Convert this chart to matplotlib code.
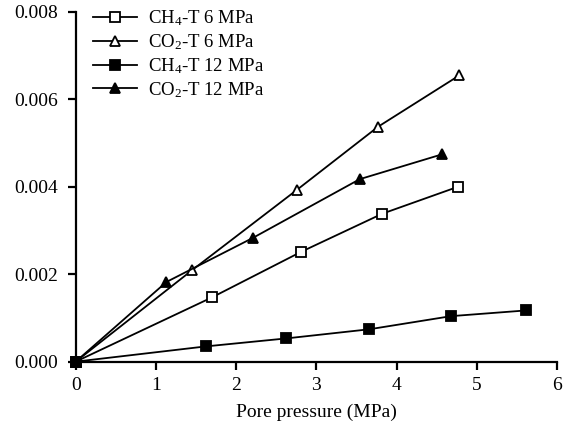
import matplotlib
matplotlib.use('Agg')
import matplotlib.pyplot as plt

plt.rcParams['font.family'] = ['Liberation Serif']
plt.rcParams['mathtext.fontset'] = 'custom'
plt.rcParams['mathtext.rm'] = 'Liberation Serif'
plt.rcParams['mathtext.it'] = 'Liberation Serif:italic'

labels = ['CH$_4$-T 6 MPa', 'CO$_2$-T 6 MPa', 'CH$_4$-T 12 MPa', 'CO$_2$-T 12 MPa']

ch4_6_x = [0, 1.70, 2.81, 3.82, 4.77]
ch4_6_y = [0, 0.00147, 0.00251, 0.00338, 0.00400]

co2_6_x = [0, 1.45, 2.76, 3.77, 4.78]
co2_6_y = [0, 0.00209, 0.00393, 0.00537, 0.00654]

ch4_12_x = [0, 1.63, 2.62, 3.66, 4.68, 5.61]
ch4_12_y = [0, 0.00035, 0.00053, 0.00074, 0.00104, 0.00117]

co2_12_x = [0, 1.13, 2.21, 3.54, 4.57]
co2_12_y = [0, 0.00182, 0.00283, 0.00417, 0.00474]

x_ticks = [0, 1, 2, 3, 4, 5, 6]
y_ticks = [0.000, 0.002, 0.004, 0.006, 0.008]


def main():
    fig = plt.figure(figsize=(5.63, 4.29), dpi=100)
    ax = fig.add_axes([0.1345, 0.157, 0.855, 0.816])

    style = dict(color='black', lw=1.3, ms=7, mec='black', mew=1.3,
                 clip_on=False, zorder=3)
    ax.plot(ch4_6_x, ch4_6_y, marker='s', mfc='white', label=labels[0], **style)
    ax.plot(co2_6_x, co2_6_y, marker='^', mfc='white', label=labels[1], **style)
    ax.plot(ch4_12_x, ch4_12_y, marker='s', mfc='black', label=labels[2], **style)
    ax.plot(co2_12_x, co2_12_y, marker='^', mfc='black', label=labels[3], **style)

    ax.set_xlim(0, 6)
    ax.set_ylim(0, 0.008)
    ax.set_xticks(x_ticks)
    ax.set_xticklabels([str(t) for t in x_ticks])
    ax.set_yticks(y_ticks)
    ax.set_yticklabels(['%.3f' % t for t in y_ticks])
    ax.spines['top'].set_visible(False)
    ax.spines['right'].set_visible(False)
    for s in ('left', 'bottom'):
        ax.spines[s].set_linewidth(1.6)
    ax.tick_params(direction='out', length=6, width=1.6, labelsize=14)
    ax.tick_params(axis='y', pad=7)
    ax.tick_params(axis='x', pad=5)
    ax.set_xlabel('Pore pressure (MPa)', fontsize=14, labelpad=7)

    ax.legend(loc='upper left', bbox_to_anchor=(0.02, 1.03), frameon=False,
              fontsize=13.5, handlelength=2.35, handletextpad=0.6,
              labelspacing=0.22, borderaxespad=0)

    fig.savefig('out.png', dpi=100)


if __name__ == '__main__':
    main()
